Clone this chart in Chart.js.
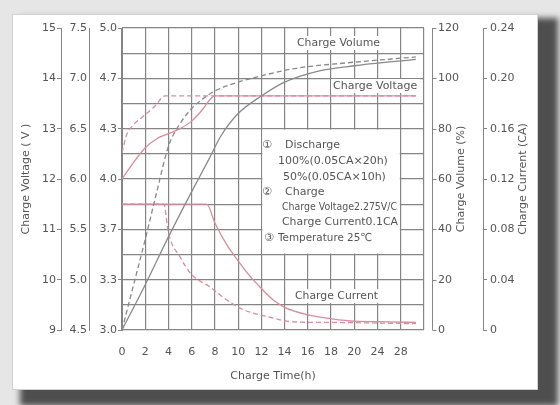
<!DOCTYPE html>
<html>
<head>
<meta charset="utf-8">
<script src="https://cdn.jsdelivr.net/npm/chart.js@4.4.0/dist/chart.umd.min.js"></script>
<style>
html, body { margin: 0; padding: 0; }
body { width: 560px; height: 405px; overflow: hidden; background: #e6e6e6; position: relative; }
#card { position: absolute; left: 12px; top: 14px; width: 524px; height: 374px; background: #fff;
        border: 1px solid #d2d2d2; box-shadow: 14px 10px 6px 6px #4e4e4e; }
#myChart { position: absolute; left: 0; top: 0; }
</style>
</head>
<body>
<div id="card"></div>
<canvas id="myChart" width="560" height="405"></canvas>
<script>
// tick labels as printed on the sheet (the last two are 24 and 28)
const xTickLabels = ['0', '2', '4', '6', '8', '10', '12', '14', '16', '18', '20', '24', '28', ''];
const innerVoltLabels = ['3.0', '3.3', '3.7', '4.0', '4.3', '4.7', '5.0'];

// charge voltage (V), 100% discharge = solid, 50% = dashed
const voltFullTime = [0, 1, 2, 3, 4, 5, 6, 7, 7.5, 8, 25.3];
const voltFullVal = [12.0, 12.33, 12.62, 12.8, 12.9, 13.0, 13.15, 13.4, 13.56, 13.65, 13.65];
const voltHalfTime = [0, 0.4, 1, 1.8, 2.8, 3.7, 25.3];
const voltHalfVal = [12.52, 12.88, 13.08, 13.24, 13.44, 13.65, 13.65];

// charge volume (%)
const volFullTime = [0, 2, 4, 6, 7.5, 8.5, 10, 12, 14, 17, 20, 23, 25.3];
const volFullVal = [0, 18, 37, 55, 68, 77, 86, 93, 98.5, 103, 105, 106.5, 107.5];
const volHalfTime = [0, 1, 2, 3, 4, 5, 6, 7, 8, 10, 12, 15, 19, 25.3];
const volHalfVal = [0, 18, 36, 55, 73, 82, 88, 92, 95, 98.5, 101, 104, 106, 108.5];

// charge current (CA)
const curFullTime = [0, 7.3, 8, 9, 10, 11, 12, 13, 14, 16, 18, 20, 23, 25.3];
const curFullVal = [0.1, 0.1, 0.085, 0.068, 0.055, 0.043, 0.033, 0.024, 0.018, 0.012, 0.009, 0.007, 0.0065, 0.006];
const curHalfTime = [0, 3.6, 4, 5, 6, 7.6, 9, 10.5, 12.8, 14.7, 18, 25.3];
const curHalfVal = [0.1, 0.1, 0.077, 0.058, 0.044, 0.034, 0.024, 0.016, 0.010, 0.0065, 0.006, 0.005];

const gridColor = '#858585';
const textColor = '#555';
const pink = '#d98c9e';
const grey = '#8a8a8a';
const fontFam = '"DejaVu Sans", "Noto Sans CJK SC", sans-serif';

Chart.defaults.font.family = fontFam;
Chart.defaults.font.size = 11;
Chart.defaults.color = textColor;

function pts(t, v) {
    return t.map((x, i) => ({ x: x, y: v[i] }));
}

function line(data, color, dashed, axis) {
    return {
        data: data,
        yAxisID: axis,
        borderColor: color,
        borderWidth: 1.3,
        borderDash: dashed ? [5, 3] : [],
        pointRadius: 0,
        fill: false,
        cubicInterpolationMode: 'monotone'
    };
}

const decor = {
    id: 'decor',
    beforeDatasetsDraw(chart) {
        const { ctx, scales: { x, vol } } = chart;
        // the notes sit on a white panel over the grid
        const l = x.getPixelForValue(12), r = x.getPixelForValue(24);
        const t = vol.getPixelForValue(80), b = vol.getPixelForValue(30);
        ctx.save();
        ctx.fillStyle = '#fff';
        ctx.fillRect(l + 1, t + 1, r - l - 2, b - t - 2);
        ctx.restore();
    },
    afterDatasetsDraw(chart) {
        const ctx = chart.ctx;
        ctx.save();
        ctx.font = '11px ' + fontFam;
        ctx.textBaseline = 'middle';
        // curve labels
        [['Charge Volume', 297, 43, 83], ['Charge Voltage', 333, 86, 85], ['Charge Current', 295, 296, 83]].forEach(a => {
            ctx.fillStyle = '#fff';
            ctx.fillRect(a[1] - 2, a[2] - 7, a[3] + 4, 14);
            ctx.fillStyle = textColor;
            ctx.fillText(a[0], a[1], a[2], a[3]);
        });
        // notes
        const notes = [
            ['\u2460', 262, 145, 11], ['Discharge', 285, 145, 56],
            ['100%(0.05CA\u00d720h)', 278, 161, 112],
            ['50%(0.05CA\u00d710h)', 283, 177, 105],
            ['\u2461', 262, 192, 11], ['Charge', 285, 192, 41],
            ['Charge Voltage2.275V/C', 282, 207, 115],
            ['Charge Current0.1CA', 282, 222, 116],
            ['\u2462', 264, 238, 11], ['Temperature 25\u2103', 278, 238, 94]
        ];
        ctx.fillStyle = textColor;
        notes.forEach(n => ctx.fillText(n[0], n[1], n[2], n[3]));
        ctx.restore();
    },
    afterDraw(chart) {
        const { ctx, chartArea, scales: { vol } } = chart;
        ctx.save();
        // volume axis line stands a little off the grid
        const ax = Math.round(vol.left + 8) + 0.5;
        ctx.strokeStyle = gridColor;
        ctx.lineWidth = 1;
        ctx.beginPath();
        ctx.moveTo(ax, chartArea.top);
        ctx.lineTo(ax, chartArea.bottom);
        for (let v = 0; v <= 120; v += 20) {
            const y = Math.round(vol.getPixelForValue(v)) + 0.5;
            ctx.moveTo(ax, y);
            ctx.lineTo(ax + 4, y);
        }
        ctx.stroke();
        // right axis titles read bottom to top
        ctx.fillStyle = textColor;
        ctx.font = '11px ' + fontFam;
        ctx.textAlign = 'center';
        ctx.textBaseline = 'middle';
        const cy = (chartArea.top + chartArea.bottom) / 2;
        [['Charge Volume (%)', 461], ['Charge Current (CA)', 523]].forEach(a => {
            ctx.save();
            ctx.translate(a[1], cy);
            ctx.rotate(-Math.PI / 2);
            ctx.fillText(a[0], 0, 0);
            ctx.restore();
        });
        ctx.restore();
    }
};

const ctx = document.getElementById('myChart').getContext('2d');
const myChart = new Chart(ctx, {
    type: 'line',
    data: {
        datasets: [
            line(pts(volFullTime, volFullVal), grey, false, 'vol'),
            line(pts(volHalfTime, volHalfVal), grey, true, 'vol'),
            line(pts(voltFullTime, voltFullVal), pink, false, 'v'),
            line(pts(voltHalfTime, voltHalfVal), pink, true, 'v'),
            line(pts(curFullTime, curFullVal), pink, false, 'cur'),
            line(pts(curHalfTime, curHalfVal), pink, true, 'cur')
        ]
    },
    options: {
        responsive: false,
        animation: false,
        devicePixelRatio: 1,
        layout: { padding: { left: 18, right: 25, top: 28, bottom: 15 } },
        plugins: { legend: { display: false }, tooltip: { enabled: false } },
        scales: {
            x: {
                type: 'linear', min: 0, max: 26, position: 'bottom',
                ticks: { stepSize: 2, padding: 16, maxRotation: 0, autoSkip: false,
                         callback: (v, i) => xTickLabels[i] },
                grid: { color: gridColor, lineWidth: 1.2, drawTicks: false },
                border: { display: false },
                title: { display: true, text: 'Charge Time(h)', padding: { top: 4, bottom: 7 } },
                afterFit: s => { s.height = 60; }
            },
            vol: {
                position: 'right', min: 0, max: 120, weight: 1,
                ticks: { stepSize: 10, padding: 14, callback: v => (v % 20 === 0 ? v : '') },
                grid: { color: gridColor, lineWidth: 1.2, drawTicks: false },
                border: { display: false },
                afterFit: s => { s.width = 59; }
            },
            cur: {
                position: 'right', min: 0, max: 0.24, weight: 2,
                ticks: { stepSize: 0.04, padding: 3, callback: v => (v === 0 ? '0' : v.toFixed(2)) },
                grid: { drawOnChartArea: false, tickLength: 4, color: gridColor },
                border: { color: gridColor },
                afterFit: s => { s.width = 52; }
            },
            inner: {
                position: 'left', min: 0, max: 6, weight: 1,
                ticks: { stepSize: 1, padding: 1, callback: (v, i) => innerVoltLabels[i] },
                grid: { drawOnChartArea: false, tickLength: 4, color: gridColor },
                border: { color: gridColor },
                afterFit: s => { s.width = 33; }
            },
            mid: {
                position: 'left', min: 4.5, max: 7.5, weight: 2,
                ticks: { stepSize: 0.5, padding: 2, callback: v => v.toFixed(1) },
                grid: { drawOnChartArea: false, drawTicks: false, color: gridColor },
                border: { color: gridColor },
                afterFit: s => { s.width = 28; }
            },
            v: {
                position: 'left', min: 9, max: 15, weight: 3,
                ticks: { stepSize: 1, padding: 1 },
                grid: { drawOnChartArea: false, tickLength: 4, color: gridColor },
                border: { color: gridColor },
                title: { display: true, text: 'Charge Voltage ( V )', padding: { top: 2, bottom: 2 } },
                afterFit: s => { s.width = 43; }
            }
        }
    },
    plugins: [decor]
});
</script>
</body>
</html>
